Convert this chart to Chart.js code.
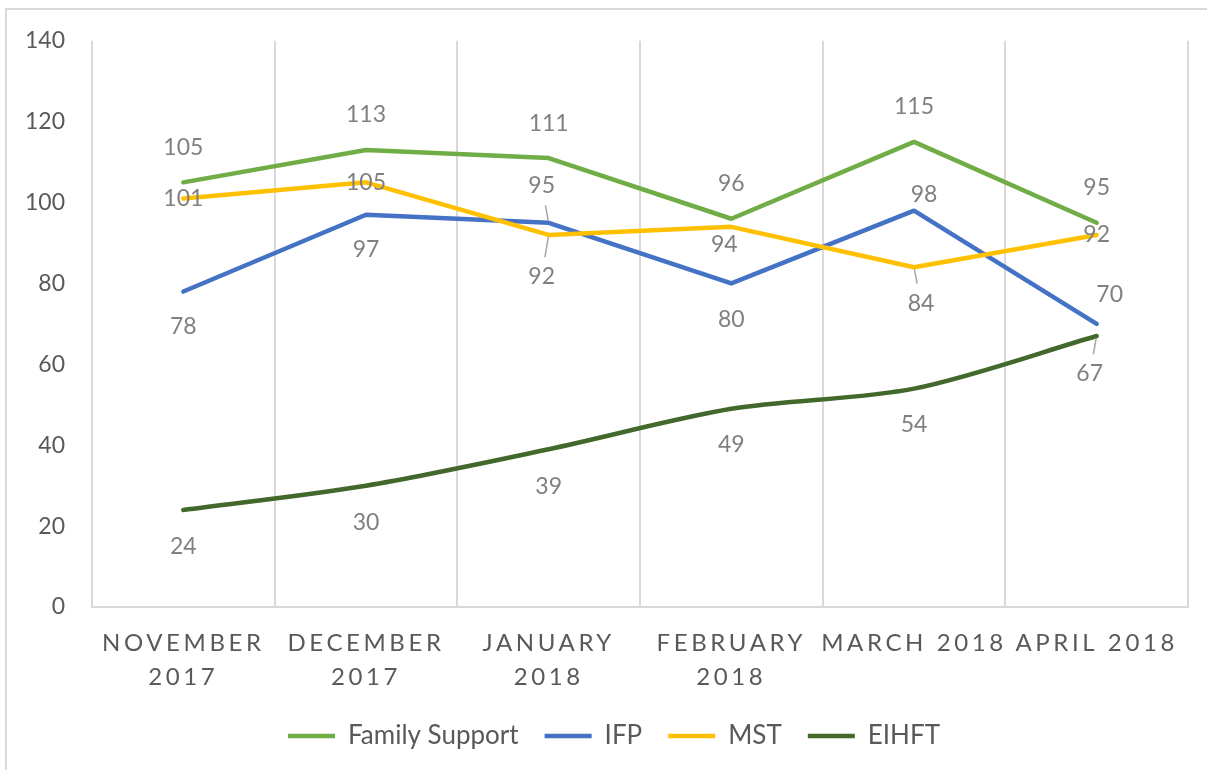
<!DOCTYPE html>
<html>
<head>
<meta charset="utf-8">
<script src="https://cdn.jsdelivr.net/npm/chart.js@4.4.1/dist/chart.umd.min.js"></script>
<style>
  html, body { margin: 0; padding: 0; background: #fff; overflow: hidden; }
  #chart { display: block; }
</style>
</head>
<body>
<canvas id="chart" width="1207" height="770"></canvas>
<script>
const months = [['NOVEMBER', '2017'], ['DECEMBER', '2017'], ['JANUARY', '2018'], ['FEBRUARY', '2018'], 'MARCH 2018', 'APRIL 2018'];
const familySupport = [105, 113, 111, 96, 115, 95];
const ifp = [78, 97, 95, 80, 98, 70];
const mst = [101, 105, 92, 94, 84, 92];
const eihft = [24, 30, 39, 49, 54, 67];
const yMin = 0;
const yMax = 140;
const yStep = 20;

// where each value label sits relative to its point: [dx, dy, leader line]
const labelSpots = [
  [[0, -35], [0, -35], [0, -35], [0, -35], [0, -35], [0, -35]],
  [[0, 35], [0, 35], [-7, -37, true], [0, 36], [10, -16], [13, -29]],
  [[0, 0], [0, 0], [-7, 42, true], [-7, 18], [7, 36, true], [0, 0]],
  [[0, 37], [0, 37], [0, 37], [0, 36], [0, 36], [-7, 38, true]]
];

const FONT = 'Lato';

const valueLabels = {
  id: 'valueLabels',
  afterDatasetsDraw(chart) {
    const ctx = chart.ctx;
    ctx.save();
    ctx.font = '23px ' + FONT;
    ctx.textAlign = 'center';
    ctx.textBaseline = 'middle';
    chart.data.datasets.forEach((ds, di) => {
      const meta = chart.getDatasetMeta(di);
      meta.data.forEach((pt, i) => {
        const spot = labelSpots[di][i];
        const lx = pt.x + spot[0];
        const ly = pt.y + spot[1];
        if (spot[2]) {
          const dx = lx - pt.x, dy = ly - pt.y;
          const len = Math.sqrt(dx * dx + dy * dy);
          const ux = dx / len, uy = dy / len;
          ctx.strokeStyle = '#a6a6a6';
          ctx.lineWidth = 1.5;
          ctx.beginPath();
          ctx.moveTo(pt.x + ux * 2, pt.y + uy * 2);
          ctx.lineTo(pt.x + ux * (len - 20), pt.y + uy * (len - 20));
          ctx.stroke();
        }
        ctx.fillStyle = '#808080';
        ctx.fillText(String(ds.data[i]), lx, ly);
      });
    });
    ctx.restore();
  }
};

const frame = {
  id: 'frame',
  beforeDraw(chart) {
    const ctx = chart.ctx;
    ctx.save();
    ctx.fillStyle = '#fff';
    ctx.fillRect(0, 0, chart.width, chart.height);
    ctx.strokeStyle = '#d9d9d9';
    ctx.lineWidth = 2;
    ctx.beginPath();
    ctx.moveTo(6, chart.height);
    ctx.lineTo(6, 9);
    ctx.lineTo(chart.width, 9);
    ctx.stroke();
    ctx.restore();

    // spaced out month labels
    const sc = chart.scales.x;
    if (sc && !sc._spaced) {
      const orig = sc.drawLabels;
      sc.drawLabels = function (area) {
        this.ctx.save();
        this.ctx.letterSpacing = '3.6px';
        orig.call(this, area);
        this.ctx.restore();
      };
      sc._spaced = true;
    }
    // y labels reach past the narrow axis box, don't clip them
    const ys = chart.scales.y;
    if (ys) ys._computeLabelArea = () => undefined;
  }
};

function series(label, data, color, tension) {
  return {
    label,
    data,
    borderColor: color,
    backgroundColor: color,
    borderWidth: 4.5,
    borderCapStyle: 'round',
    borderJoinStyle: 'round',
    pointRadius: 0,
    pointHoverRadius: 0,
    tension: tension || 0,
    fill: false
  };
}

const ds = [
  series('Family Support', familySupport, '#70ad47'),
  series('IFP', ifp, '#4472c4'),
  series('MST', mst, '#ffc000'),
  series('EIHFT', eihft, '#43682b', 0.3)
];
// later series on top, like the original
ds.forEach((d, i) => { d.order = ds.length - i; });

new Chart(document.getElementById('chart'), {
  type: 'line',
  data: { labels: months, datasets: ds },
  plugins: [frame, valueLabels],
  options: {
    responsive: false,
    animation: false,
    events: [],
    layout: { padding: { left: 40, right: 19, top: 40, bottom: 11 } },
    scales: {
      x: {
        offset: true,
        grid: { display: true, offset: true, color: '#d9d9d9', lineWidth: 2, drawTicks: false },
        border: { display: true, color: '#d9d9d9', width: 2 },
        ticks: {
          color: '#595959',
          font: { family: FONT, size: 24, lineHeight: 1.42 },
          padding: 19,
          maxRotation: 0,
          autoSkip: false
        },
        afterFit(scale) { scale.height = 90; }
      },
      y: {
        min: yMin,
        max: yMax,
        grid: { display: false, drawTicks: false },
        border: { display: false },
        ticks: {
          stepSize: yStep,
          color: '#595959',
          font: { family: FONT, size: 23 },
          padding: 27
        },
        afterFit(scale) { scale.width = 52; }
      }
    },
    plugins: {
      tooltip: { enabled: false },
      legend: {
        position: 'bottom',
        labels: {
          color: '#595959',
          font: { family: FONT, size: 26 },
          usePointStyle: true,
          pointStyle: 'line',
          pointStyleWidth: 47,
          padding: 26,
          sort: (a, b) => a.datasetIndex - b.datasetIndex
        }
      }
    }
  }
});
</script>
</body>
</html>
